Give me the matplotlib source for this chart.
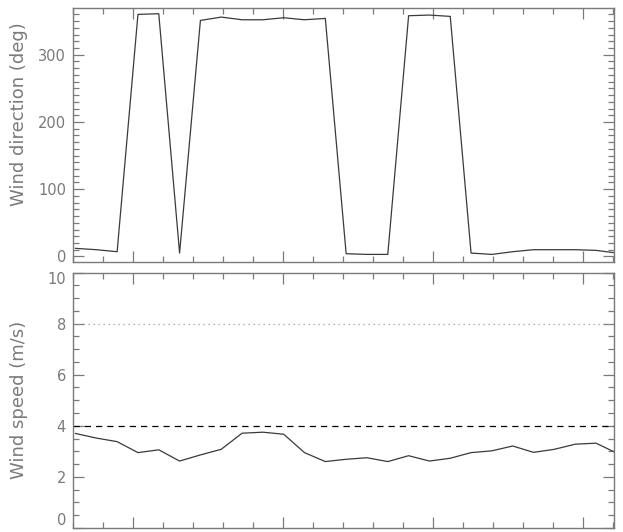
import numpy as np
import matplotlib
matplotlib.use("Agg")
import matplotlib.pyplot as plt
from matplotlib.ticker import MultipleLocator, NullFormatter

# sample times (hours from start of axis), one sample every ~42 min
time = 0.083 + 0.694 * np.arange(27)

wind_dir = [12, 10, 7, 360, 361, 5, 351, 356, 352, 352, 355, 352, 354, 4, 3, 3,
            358, 359, 357, 5, 3, 7, 10, 10, 10, 9, 5]
wind_speed = [3.70, 3.52, 3.38, 2.95, 3.06, 2.62, 2.86, 3.08, 3.71, 3.75, 3.67,
              2.95, 2.60, 2.69, 2.75, 2.60, 2.83, 2.62, 2.73, 2.95, 3.02, 3.21,
              2.96, 3.08, 3.28, 3.32, 2.93]
speed_ticks = [0, 2, 4, 6, 8, 10]
speed_limit = 4.0
speed_warn = 8.0

axis_col = "#7a7a7a"
text_col = "#7a7a7a"
line_col = "#3a3a3a"

fig = plt.figure(figsize=(6.23, 5.32), dpi=100)
ax1 = fig.add_axes([73 / 623, 1 - 262 / 532, 541 / 623, 254 / 532])
ax2 = fig.add_axes([73 / 623, 1 - 528 / 532, 541 / 623, 255.5 / 532])

ax1.plot(time, wind_dir, color=line_col, lw=0.9)
ax1.set_ylim(-8.3, 369.5)
ax1.yaxis.set_major_locator(MultipleLocator(100))
ax1.yaxis.set_minor_locator(MultipleLocator(10))
ax1.set_ylabel("Wind direction (deg)", fontsize=13, color=text_col)
ax1.yaxis.set_label_coords(-0.083, 0.583)

ax2.plot(time, wind_speed, color=line_col, lw=0.9)
ax2.axhline(speed_limit, color="black", lw=0.9, ls=(0, (5, 4)))
ax2.axhline(speed_warn, color="#9a9a9a", lw=0.9, ls=(0, (1, 3)))
ax2.set_ylim(0, 10)
ax2.set_yticks(speed_ticks)
ax2.yaxis.set_minor_locator(MultipleLocator(0.5))
ax2.set_ylabel("Wind speed (m/s)", fontsize=13, color=text_col)
ax2.yaxis.set_label_coords(-0.083, 0.5)

for ax in (ax1, ax2):
    ax.set_xlim(0, 541 / 30)
    ax.xaxis.set_major_locator(MultipleLocator(5, offset=2))
    ax.xaxis.set_minor_locator(MultipleLocator(1))
    ax.xaxis.set_major_formatter(NullFormatter())
    ax.tick_params(which="both", direction="in", top=True, right=True,
                   color=axis_col, labelcolor=text_col, labelsize=10.5, width=0.9)
    ax.tick_params(which="major", length=8, pad=5)
    ax.tick_params(which="minor", length=4.5)
    for sp in ax.spines.values():
        sp.set_color(axis_col)
        sp.set_linewidth(1.0)

# keep the end labels of the lower axis inside the frame, as in the original
ticks = ax2.yaxis.get_major_ticks()
ticks[0].label1.set_verticalalignment("bottom")
ticks[-1].label1.set_verticalalignment("top")

fig.savefig("out.png", dpi=100)
